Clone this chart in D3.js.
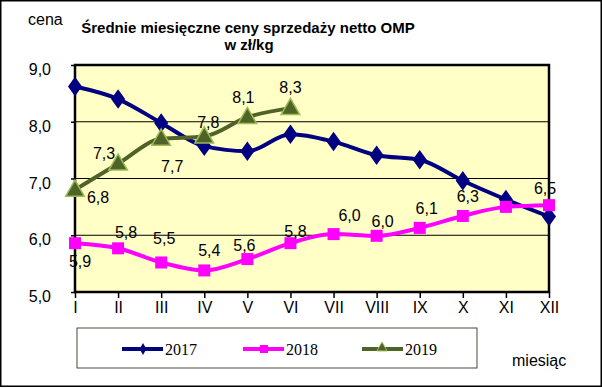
<!DOCTYPE html>
<html><head><meta charset="utf-8">
<script src="https://cdn.jsdelivr.net/npm/d3@7"></script>
<style>body{margin:0;background:#fff}svg{display:block}</style>
</head><body><svg id="c" width="602" height="388"></svg>
<script>
const months = ["I","II","III","IV","V","VI","VII","VIII","IX","X","XI","XII"];
const yTicks = [5,6,7,8,9];
const s2017 = [8.62,8.40,7.98,7.57,7.48,7.78,7.65,7.41,7.33,6.96,6.63,6.33];
const s2018 = [5.86,5.77,5.52,5.38,5.58,5.86,6.02,5.99,6.13,6.34,6.50,6.53];
const s2019 = [6.80,7.26,7.70,7.74,8.08,8.24];
const labels2018 = ["5,9","5,8","5,5","5,4","5,6","5,8","6,0","6,0","6,1","6,3","","6,5"];
const labels2019 = ["6,8","7,3","7,7","7,8","8,1","8,3"];
const seriesNames = ["2017","2018","2019"];

const svg = d3.select("#c");
const L=75,R=549,T=65,B=292;
const x = d3.scalePoint().domain(months).range([L,R]);
const y = d3.scaleLinear().domain([5,9]).range([B,T]);
const font = "Arial, 'Liberation Sans', sans-serif";

svg.append("rect").attr("x",0.75).attr("y",0.75).attr("width",600.5).attr("height",385.5).attr("fill","#fff").attr("stroke","#000").attr("stroke-width",1.5);
svg.append("rect").attr("x",L).attr("y",T).attr("width",R-L).attr("height",B-T).attr("fill","#FFFFC6");
svg.append("g").selectAll("line").data(yTicks.slice(1,4)).join("line")
 .attr("x1",L).attr("x2",R).attr("y1",d=>y(d)).attr("y2",d=>y(d)).attr("stroke","#000").attr("stroke-width",1);
svg.append("rect").attr("x",L).attr("y",T).attr("width",R-L).attr("height",B-T).attr("fill","none").attr("stroke","#000").attr("stroke-width",2.5);

const ya = d3.axisLeft(y).tickValues(yTicks).tickSize(4).tickFormat(d=>d3.format(".1f")(d).replace(".",","));
const gy = svg.append("g").attr("transform",`translate(${L},0)`).call(ya);
gy.select(".domain").remove();
gy.selectAll("line").attr("stroke","#000").attr("stroke-width",1.5);
gy.selectAll("text").attr("font-family",font).attr("font-size",16).attr("fill","#000").attr("x",-24).attr("dy","0.6em");
const xa = d3.axisBottom(x).tickSize(6).tickPadding(4);
const gx = svg.append("g").attr("transform",`translate(0,${B})`).call(xa);
gx.select(".domain").remove();
gx.selectAll("line").attr("stroke","#000").attr("stroke-width",1.5);
gx.selectAll("text").attr("font-family",font).attr("font-size",16).attr("fill","#000");

const line = d3.line().x((d,i)=>x(months[i])).y(d=>y(d)).curve(d3.curveMonotoneX);
const cols = {"2017":"#000080","2018":"#FF00FF","2019":"#4F6228"};
svg.append("path").attr("d",line(s2017)).attr("fill","none").attr("stroke",cols["2017"]).attr("stroke-width",4);
svg.append("path").attr("d",line(s2018)).attr("fill","none").attr("stroke",cols["2018"]).attr("stroke-width",4);
svg.append("path").attr("d",line(s2019)).attr("fill","none").attr("stroke",cols["2019"]).attr("stroke-width",4);

const diamond = d3.symbol().type(d3.symbolDiamond).size(110);
svg.append("g").selectAll("path").data(s2017).join("path").attr("d",diamond)
 .attr("transform",(d,i)=>`translate(${x(months[i])},${y(d)}) scale(1.25,1)`).attr("fill","#000080");
svg.append("g").selectAll("rect").data(s2018).join("rect")
 .attr("x",(d,i)=>x(months[i])-6).attr("y",d=>y(d)-6).attr("width",12).attr("height",12).attr("fill","#FF00FF");
const tri = d3.symbol().type(d3.symbolTriangle).size(150);
svg.append("g").selectAll("path").data(s2019).join("path").attr("d",tri)
 .attr("transform",(d,i)=>`translate(${x(months[i])},${y(d)+1})`).attr("fill","#4F6228").attr("stroke","#9BBB59").attr("stroke-width",1.5);

// data labels
const off2018 = [[5,24],[8,-10],[3,-18],[5,-14],[-3,-8],[5,-6],[16,-13],[6,-9],[7,-14],[5,-14],[0,0],[-4,-11]];
const d18 = s2018.map((v,i)=>({v,i,t:labels2018[i]})).filter(d=>d.t);
svg.append("g").selectAll("text").data(d18).join("text")
 .attr("x",d=>x(months[d.i])+off2018[d.i][0]).attr("y",d=>y(d.v)+off2018[d.i][1])
 .attr("text-anchor","middle").attr("font-family",font).attr("font-size",16).attr("fill","#000")
 .text(d=>d.t);
const off2019 = [[23,13],[-14,-5],[11,33],[4,-9],[-4,-14],[0,-15]];
svg.append("g").selectAll("text").data(s2019).join("text")
 .attr("x",(d,i)=>x(months[i])+off2019[i][0]).attr("y",(d,i)=>y(d)+off2019[i][1])
 .attr("text-anchor","middle").attr("font-family",font).attr("font-size",16).attr("fill","#000")
 .text((d,i)=>labels2019[i]);

// titles
svg.append("text").attr("x",248).attr("y",33).attr("text-anchor","middle").attr("font-family",font).attr("font-size",15).attr("font-weight","bold").text("Średnie miesięczne  ceny sprzedaży netto OMP");
svg.append("text").attr("x",249).attr("y",50).attr("text-anchor","middle").attr("font-family",font).attr("font-size",15).attr("font-weight","bold").text("w zł/kg");
svg.append("text").attr("x",28).attr("y",25).attr("font-family",font).attr("font-size",16).text("cena");
svg.append("text").attr("x",512).attr("y",366).attr("font-family",font).attr("font-size",16).text("miesiąc");

// legend
svg.append("rect").attr("x",77).attr("y",328).attr("width",400).attr("height",40).attr("fill","none").attr("stroke","#4a4a3a").attr("stroke-width",1);
const lx = [122,243,362];
seriesNames.forEach((n,k)=>{
  const g = svg.append("g");
  const cy = 349;
  g.append("line").attr("x1",lx[k]).attr("x2",lx[k]+41).attr("y1",cy).attr("y2",cy).attr("stroke",cols[n]).attr("stroke-width",4);
  if(k===0) g.append("path").attr("d",d3.symbol().type(d3.symbolDiamond).size(40)).attr("transform",`translate(${lx[k]+21},${cy})`).attr("fill",cols[n]);
  if(k===1) g.append("rect").attr("x",lx[k]+17).attr("y",cy-4).attr("width",8).attr("height",8).attr("fill",cols[n]);
  if(k===2) g.append("path").attr("d",d3.symbol().type(d3.symbolTriangle).size(45)).attr("transform",`translate(${lx[k]+20},${cy-1})`).attr("fill","#4F6228").attr("stroke","#9BBB59");
  g.append("text").attr("x",lx[k]+43).attr("y",cy+6).attr("font-family","'Liberation Serif','Times New Roman',serif").attr("font-size",16).text(n);
});
</script></body></html>
